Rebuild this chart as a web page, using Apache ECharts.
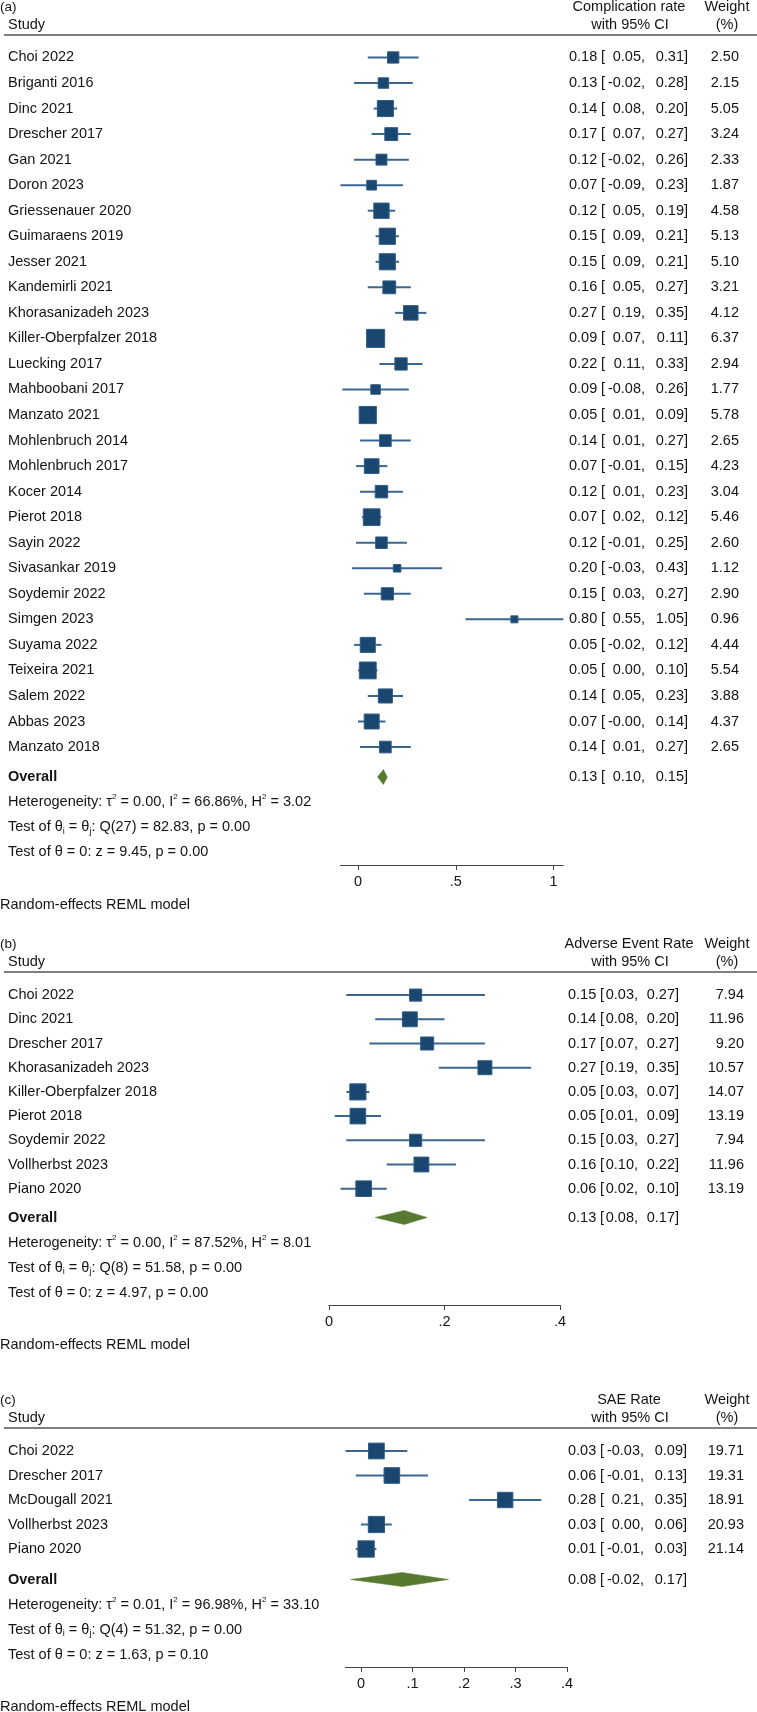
<!DOCTYPE html>
<html><head><meta charset="utf-8">
<script src="https://cdn.jsdelivr.net/npm/echarts@6/dist/echarts.min.js"></script>
<style>html,body{margin:0;padding:0;background:#fff}#c{width:757px;height:1712px}</style>
</head><body><div id="c"></div>
<script>
// ---------------- Panel (a): Complication rate ----------------
const studiesA = ['Choi 2022','Briganti 2016','Dinc 2021','Drescher 2017','Gan 2021','Doron 2023','Griessenauer 2020','Guimaraens 2019','Jesser 2021','Kandemirli 2021','Khorasanizadeh 2023','Killer-Oberpfalzer 2018','Luecking 2017','Mahboobani 2017','Manzato 2021','Mohlenbruch 2014','Mohlenbruch 2017','Kocer 2014','Pierot 2018','Sayin 2022','Sivasankar 2019','Soydemir 2022','Simgen 2023','Suyama 2022','Teixeira 2021','Salem 2022','Abbas 2023','Manzato 2018'];
const estA = [0.18,0.13,0.14,0.17,0.12,0.07,0.12,0.15,0.15,0.16,0.27,0.09,0.22,0.09,0.05,0.14,0.07,0.12,0.07,0.12,0.20,0.15,0.80,0.05,0.05,0.14,0.07,0.14];
const loA = [0.05,-0.02,0.08,0.07,-0.02,-0.09,0.05,0.09,0.09,0.05,0.19,0.07,0.11,-0.08,0.01,0.01,-0.01,0.01,0.02,-0.01,-0.03,0.03,0.55,-0.02,0.00,0.05,-0.00,0.01];
const hiA = [0.31,0.28,0.20,0.27,0.26,0.23,0.19,0.21,0.21,0.27,0.35,0.11,0.33,0.26,0.09,0.27,0.15,0.23,0.12,0.25,0.43,0.27,1.05,0.12,0.10,0.23,0.14,0.27];
const weightA = [2.50,2.15,5.05,3.24,2.33,1.87,4.58,5.13,5.10,3.21,4.12,6.37,2.94,1.77,5.78,2.65,4.23,3.04,5.46,2.60,1.12,2.90,0.96,4.44,5.54,3.88,4.37,2.65];
const overallA = [0.13,0.10,0.15];
const hetA = [0.00,66.86,3.02];      // tau2, I2 (%), H2
const testQA = [27,82.83,0.00];      // df, Q, p
const testZA = [9.45,0.00];          // z, p
const ticksA = [0,0.5,1];
const tickLabelsA = ['0','.5','1'];

// ---------------- Panel (b): Adverse Event Rate ----------------
const studiesB = ['Choi 2022','Dinc 2021','Drescher 2017','Khorasanizadeh 2023','Killer-Oberpfalzer 2018','Pierot 2018','Soydemir 2022','Vollherbst 2023','Piano 2020'];
const estB = [0.15,0.14,0.17,0.27,0.05,0.05,0.15,0.16,0.06];
const loB = [0.03,0.08,0.07,0.19,0.03,0.01,0.03,0.10,0.02];
const hiB = [0.27,0.20,0.27,0.35,0.07,0.09,0.27,0.22,0.10];
const weightB = [7.94,11.96,9.20,10.57,14.07,13.19,7.94,11.96,13.19];
const overallB = [0.13,0.08,0.17];
const hetB = [0.00,87.52,8.01];
const testQB = [8,51.58,0.00];
const testZB = [4.97,0.00];
const ticksB = [0,0.2,0.4];
const tickLabelsB = ['0','.2','.4'];

// ---------------- Panel (c): SAE Rate ----------------
const studiesC = ['Choi 2022','Drescher 2017','McDougall 2021','Vollherbst 2023','Piano 2020'];
const estC = [0.03,0.06,0.28,0.03,0.01];
const loC = [-0.03,-0.01,0.21,0.00,-0.01];
const hiC = [0.09,0.13,0.35,0.06,0.03];
const weightC = [19.71,19.31,18.91,20.93,21.14];
const overallC = [0.08,-0.02,0.17];
const hetC = [0.01,96.98,33.10];
const testQC = [4,51.32,0.00];
const testZC = [1.63,0.10];
const ticksC = [0,0.1,0.2,0.3,0.4];
const tickLabelsC = ['0','.1','.2','.3','.4'];

const panelTags = ['(a)','(b)','(c)'];
const effectHeaders = ['Complication rate','Adverse Event Rate','SAE Rate'];

const panels = [
  {tag:panelTags[0], header:effectHeaders[0], studies:studiesA, est:estA, lo:loA, hi:hiA, w:weightA, overall:overallA, het:hetA, q:testQA, z:testZA, ticks:ticksA, tickLabels:tickLabelsA, padded:true},
  {tag:panelTags[1], header:effectHeaders[1], studies:studiesB, est:estB, lo:loB, hi:hiB, w:weightB, overall:overallB, het:hetB, q:testQB, z:testZB, ticks:ticksB, tickLabels:tickLabelsB, padded:false},
  {tag:panelTags[2], header:effectHeaders[2], studies:studiesC, est:estC, lo:loC, hi:hiC, w:weightC, overall:overallC, het:hetC, q:testQC, z:testZC, ticks:ticksC, tickLabels:tickLabelsC, padded:true}
];

// ---------------- layout (pixels) ----------------
const layouts = [
  {rule:35,   rowsTop:44.7,   rowH:25.54, statsTop:764.4, statsH:100.6, x0:340.4, x1:563.3, ciX:569, wRight:739, boxK:7.15, diaH:7.5},
  {rule:972,  rowsTop:983,    rowH:24.2,  statsTop:1205,  statsH:100,   x0:329,   x1:560,   ciX:568, wRight:744, boxK:4.3,  diaH:7},
  {rule:1428, rowsTop:1438.75,rowH:24.5,  statsTop:1567,  statsH:100,   x0:345.5, x1:567,   ciX:568, wRight:744, boxK:3.55, diaH:7}
];

const FONT = "'Liberation Sans', Arial, Helvetica, sans-serif";
const FS = 14.5;
const TXT = '#141414';
const BOX = '#1a476f';
const BOXLINE = '#2f5c86';
const CILINE = '#3b6690';
const DIA = '#587a30';
const AXIS = '#444';

function f2(v){ const s = Math.abs(v).toFixed(2); return (v < 0 || Object.is(v, -0)) ? '-' + s : s; }
function ciText(e, l, h){ return '{e|' + f2(e) + '}{b|[}{l|' + f2(l) + ',}{h|' + f2(h) + ']}'; }
function ciRich(padded){
  const base = {fontSize:FS, fontFamily:FONT, color:TXT};
  return padded ? {
    e:Object.assign({width:32, align:'left'}, base),
    b:Object.assign({width:4, align:'left'}, base),
    l:Object.assign({width:40, align:'right'}, base),
    h:Object.assign({width:43, align:'right'}, base)
  } : {
    e:Object.assign({width:32, align:'left'}, base),
    b:Object.assign({width:4, align:'left'}, base),
    l:Object.assign({width:34, align:'right'}, base),
    h:Object.assign({width:41, align:'right'}, base)
  };
}
const statRich = {
  bold:{fontSize:FS, fontFamily:FONT, color:TXT, fontWeight:'bold'},
  sup:{fontSize:8, fontFamily:FONT, color:TXT, verticalAlign:'top', lineHeight:8},
  sub:{fontSize:9, fontFamily:FONT, color:TXT, verticalAlign:'bottom', lineHeight:9}
};

const grid = [], xAxis = [], yAxis = [], series = [], graphic = [];
const hideAxis = {axisLine:{show:false}, axisTick:{show:false}, splitLine:{show:false}};

function gtext(x, y, text, align, extra){
  return {type:'text', x:x, y:y, silent:true, style:Object.assign({
    text:text, fill:TXT, fontSize:FS, fontFamily:FONT,
    align:align, textAlign:align, verticalAlign:'middle', textVerticalAlign:'middle'}, extra || {})};
}

panels.forEach((P, pi) => {
  const L = layouts[pi];
  const n = P.studies.length;
  const g = grid.length;
  grid.push({left:L.x0, width:L.x1 - L.x0, top:L.rowsTop, height:n * L.rowH});
  grid.push({left:L.x0, width:L.x1 - L.x0, top:L.statsTop, height:L.statsH});

  const xmin = Math.min(0, ...P.lo, P.overall[1]);
  const xmax = Math.max(P.ticks[P.ticks.length - 1], ...P.hi, P.overall[2]);
  xAxis.push({gridIndex:g, type:'value', min:xmin, max:xmax, show:false});
  xAxis.push({gridIndex:g + 1, type:'value', min:xmin, max:xmax, position:'bottom',
    splitLine:{show:false},
    axisLine:{show:true, onZero:false, lineStyle:{color:AXIS, width:1}},
    axisTick:{show:true, length:5, customValues:P.ticks, lineStyle:{color:AXIS, width:1}},
    axisLabel:{customValues:P.ticks, margin:9, fontSize:FS, fontFamily:FONT, color:TXT,
      formatter:(v) => { const k = P.ticks.findIndex(t => Math.abs(t - v) < 1e-9); return k >= 0 ? P.tickLabels[k] : ''; }}
  });

  const idx = P.studies.map((_, i) => String(i));
  const yStudy = yAxis.length;
  const lab = {interval:0, fontSize:FS, fontFamily:FONT, color:TXT};
  yAxis.push(Object.assign({gridIndex:g, type:'category', data:idx, inverse:true,
    axisLabel:Object.assign({}, lab, {align:'left', margin:L.x0 - 8, formatter:(v, i) => P.studies[i]})}, hideAxis));
  yAxis.push(Object.assign({gridIndex:g, type:'category', data:idx, inverse:true, position:'right',
    axisLabel:Object.assign({}, lab, {align:'left', margin:L.ciX - L.x1, rich:ciRich(P.padded),
      formatter:(v, i) => ciText(P.est[i], P.lo[i], P.hi[i])})}, hideAxis));
  yAxis.push(Object.assign({gridIndex:g, type:'category', data:idx, inverse:true, position:'right',
    axisLabel:Object.assign({}, lab, {align:'right', margin:L.wRight - L.x1, formatter:(v, i) => P.w[i].toFixed(2)})}, hideAxis));

  const statLines = [
    '{bold|Overall}',
    'Heterogeneity: \u03c4{sup|2} = ' + P.het[0].toFixed(2) + ', I{sup|2} = ' + P.het[1].toFixed(2) + '%, H{sup|2} = ' + P.het[2].toFixed(2),
    'Test of \u03b8{sub|i} = \u03b8{sub|j}: Q(' + P.q[0] + ') = ' + P.q[1].toFixed(2) + ', p = ' + P.q[2].toFixed(2),
    'Test of \u03b8 = 0: z = ' + P.z[0].toFixed(2) + ', p = ' + P.z[1].toFixed(2)
  ];
  const yStats = yAxis.length;
  yAxis.push(Object.assign({gridIndex:g + 1, type:'category', data:['0','1','2','3'], inverse:true,
    axisLabel:Object.assign({}, lab, {align:'left', margin:L.x0 - 8, lineHeight:18, rich:statRich,
      formatter:(v, i) => statLines[i]})}, hideAxis));
  yAxis.push(Object.assign({gridIndex:g + 1, type:'category', data:['0','1','2','3'], inverse:true, position:'right',
    axisLabel:Object.assign({}, lab, {align:'left', margin:L.ciX - L.x1, rich:ciRich(P.padded),
      formatter:(v, i) => i === 0 ? ciText(P.overall[0], P.overall[1], P.overall[2]) : ''})}, hideAxis));

  series.push({
    type:'custom', xAxisIndex:g, yAxisIndex:yStudy, silent:true,
    data:P.est.map((e, i) => [e, P.lo[i], P.hi[i], P.w[i], i]),
    encode:{x:[0, 1, 2], y:4},
    renderItem:(params, api) => {
      const y = api.value(4);
      const a = api.coord([api.value(1), y]);
      const b = api.coord([api.value(2), y]);
      const c = api.coord([api.value(0), y]);
      const s = L.boxK * Math.sqrt(api.value(3));
      return {type:'group', children:[
        {type:'line', shape:{x1:a[0], y1:a[1], x2:b[0], y2:b[1]}, style:{stroke:CILINE, lineWidth:2}},
        {type:'rect', shape:{x:c[0] - s / 2, y:c[1] - s / 2, width:s, height:s}, style:{fill:BOX, stroke:BOXLINE, lineWidth:1}}
      ]};
    }
  });
  series.push({
    type:'custom', xAxisIndex:g + 1, yAxisIndex:yStats, silent:true,
    data:[[P.overall[0], P.overall[1], P.overall[2], 0]],
    encode:{x:[0, 1, 2], y:3},
    renderItem:(params, api) => {
      const y = api.value(3);
      const a = api.coord([api.value(1), y]);
      const c = api.coord([api.value(0), y]);
      const b = api.coord([api.value(2), y]);
      const h = L.diaH;
      return {type:'polygon', shape:{points:[[a[0], a[1]], [c[0], c[1] - h], [b[0], b[1]], [c[0], c[1] + h]]},
        style:{fill:DIA, stroke:DIA, lineWidth:0.5}};
    }
  });

  // header texts / rule / footer
  const r = L.rule;
  graphic.push(gtext(0, r - 28, P.tag, 'left', {fontSize:13.5}));
  graphic.push(gtext(8, r - 10, 'Study', 'left'));
  graphic.push(gtext(629, r - 28, P.header, 'center'));
  graphic.push(gtext(630, r - 10, 'with 95% CI', 'center'));
  graphic.push(gtext(727, r - 28, 'Weight', 'center'));
  graphic.push(gtext(727, r - 10, '(%)', 'center'));
  graphic.push({type:'line', silent:true, shape:{x1:4, y1:r, x2:757, y2:r}, style:{stroke:'#555', lineWidth:1.5}});
  graphic.push(gtext(0, L.statsTop + L.statsH + 40, 'Random-effects REML model', 'left'));
});

const chart = echarts.init(document.getElementById('c'), null, {renderer:'canvas'});
chart.setOption({
  animation:false,
  backgroundColor:'#ffffff',
  textStyle:{fontFamily:FONT},
  grid:grid, xAxis:xAxis, yAxis:yAxis, series:series, graphic:graphic
});
</script>
</body></html>
